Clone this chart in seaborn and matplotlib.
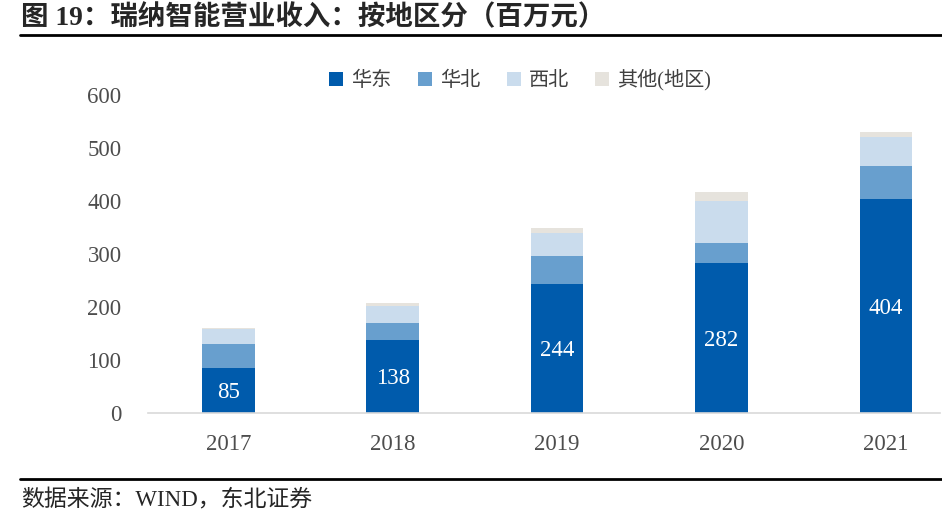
import matplotlib
matplotlib.use("Agg")
import matplotlib.pyplot as plt
import seaborn as sns
import pandas as pd

years = ["2017", "2018", "2019", "2020", "2021"]
east = [85, 138, 244, 282, 404]
north = [45, 32, 52, 39, 62]
west = [28, 32, 44, 79, 55]
other = [2, 5, 9, 17, 9]
series_names = ["华东", "华北", "西北", "其他(地区)"]
colors = ["#005BAC", "#689FCE", "#CADCED", "#E6E3DD"]

sns.set_theme(style="white")
fams = ["Liberation Serif", "Noto Sans CJK SC"]
plt.rcParams["font.family"] = fams

df = pd.DataFrame({"year": years, "east": east, "north": north, "west": west, "other": other})

fig = plt.figure(figsize=(9.42, 5.18), dpi=100)
ax = fig.add_axes([0.157, 0.203, 0.841, 0.614])

bottom = [0] * len(years)
for col, name, c in zip(["east", "north", "west", "other"], series_names, colors):
    sns.barplot(data=df, x="year", y=col, color=c, width=0.32, bottom=bottom,
                ax=ax, label=name, saturation=1, edgecolor="none")
    bottom = [b + v for b, v in zip(bottom, df[col])]

# value labels on east segment
for i, v in enumerate(east):
    ax.text(i, v / 2, str(v), ha="center", va="center_baseline", color="white",
            fontsize=16.5, family="Liberation Serif")

ax.set_ylim(0, 600)
ax.set_xlim(-0.49, 4.33)
ax.set_yticks(range(0, 601, 100))
ax.set_xlabel("")
ax.set_ylabel("")
for s in ["top", "right", "left"]:
    ax.spines[s].set_visible(False)
ax.spines["bottom"].set_color("#D9D9D9")
ax.spines["bottom"].set_linewidth(1.2)
ax.tick_params(axis="both", length=0, labelsize=16.5, labelcolor="#4D4D4D")
ax.tick_params(axis="y", pad=19)
ax.tick_params(axis="x", pad=15)
for lbl in ax.get_xticklabels() + ax.get_yticklabels():
    lbl.set_family("Liberation Serif")

leg = ax.legend(loc="center", bbox_to_anchor=(0.47, 1.047), ncol=4, frameon=False,
                handlelength=0.7, handleheight=0.7, handletextpad=0.4, columnspacing=1.3,
                prop={"family": fams, "size": 14.5})
for t in leg.get_texts():
    t.set_color("#404040")

# title, rules and source
fig.text(0.022, 0.966, "图 19：瑞纳智能营业收入：按地区分（百万元）", ha="left", va="center",
         fontsize=19.8, fontweight="bold", family=fams)
fig.add_artist(plt.Line2D([0.021, 1.0], [0.933, 0.933], color="black", lw=2))
fig.add_artist(plt.Line2D([0.021, 1.0], [0.075, 0.075], color="black", lw=2))
fig.text(0.022, 0.033, "数据来源：WIND，东北证券", ha="left", va="center",
         fontsize=16.5, family=fams)

fig.savefig("out.png", dpi=100)
